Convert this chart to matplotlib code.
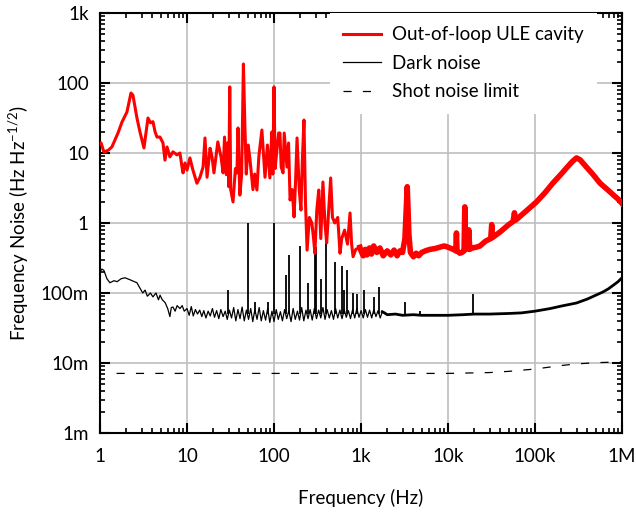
import numpy as np
import matplotlib
matplotlib.use('Agg')
import matplotlib.pyplot as plt
from matplotlib.ticker import FixedLocator, FixedFormatter, LogLocator, NullFormatter

plt.rcParams['font.family'] = ['Lato', 'DejaVu Sans']
plt.rcParams['mathtext.fontset'] = 'custom'
plt.rcParams['mathtext.rm'] = 'Lato'
plt.rcParams['mathtext.it'] = 'Lato:italic'
plt.rcParams['mathtext.bf'] = 'Lato:bold'

# ---------------- data ----------------
ule_f = [1.00, 1.03, 1.11, 1.25, 1.37, 1.61, 1.79, 2.04, 2.27, 2.39, 2.66, 2.88, 3.2, 3.56, 3.8,
         4.06, 4.3, 4.52, 4.89, 5.3, 5.58, 5.89, 6.36, 6.9, 7.67, 8.3, 8.76, 9.0, 9.48, 10,
         10.8, 11.7, 13.0, 14.1, 15.3, 16.1, 17.0, 18.4, 19.4, 20.4, 22.6, 24.6, 26.0, 27.0,
         28.3, 29.5, 30.2, 31.0, 31.8, 33.8, 36, 37.5, 38.6, 40.5, 42.5, 44.5, 46.2, 48, 50.5,
         53, 57.3, 60, 63.6, 67, 72.6, 78.8, 84, 89.6, 94.3, 97, 100, 103, 108, 113, 117, 121,
         127, 131, 141, 147, 153, 162, 170, 177, 184, 195, 204, 212, 221, 230, 240, 255, 272,
         285, 295, 310, 327, 345, 365, 385, 403, 425, 448, 470, 500, 540, 574, 600, 648, 700,
         748, 780, 811, 870, 972,
         1000, 1060, 1120, 1170, 1250, 1320, 1400, 1520, 1650, 1800, 2000, 2200, 2400, 2600,
         2800, 3000, 3200, 3400, 3550, 3700, 4000, 4300, 4600, 5000, 5500, 6200, 7000, 8000,
         9000, 9600, 10500, 11500, 12300, 12500, 12700, 13700, 14500, 15300, 15600, 15900,
         16800, 17300, 17800, 18800, 21000, 23300, 27000, 31000, 31800, 32500, 40000, 50000,
         56000, 58000, 60000, 80000, 104000, 130000, 160000, 200000, 235000, 270000, 300000,
         330000, 390000, 460000, 560000, 680000, 800000, 900000, 1000000]
ule_v = [14, 13.9, 10.3, 11, 12.2, 19.3, 27.7, 38.5, 72, 67, 31.6, 20, 11.8, 31.6, 27,
         28, 20, 16.9, 16.9, 13.9, 7.9, 12.2, 8.8, 10.4, 9.4, 10, 6.3, 5.2, 7.2, 5.7,
         8.5, 5.7, 3.7, 4.5, 6.3, 16.4, 4.5, 11.7, 8.8, 5.2, 14.4, 8.8, 5.2, 16.9,
         4.9, 14, 3.3, 88, 3.0, 2.0, 6, 5.2, 22.8, 2.5, 5, 187, 26, 5, 13,
         8, 3.0, 5, 2.96, 9, 21.3, 4.5, 13, 4.4, 20, 5, 88, 6, 11, 19.3, 19.3, 6.3,
         5.2, 19.3, 6.3, 13.9, 2.13, 3.0, 1.22, 4, 16.4, 3, 1.53, 8, 29.6, 2, 0.41, 1.2, 1.0,
         0.6, 0.37, 1.5, 2.96, 0.6, 3.85, 1, 0.52, 1.5, 4.4, 1.2, 1.0, 1.2, 0.37, 0.6, 0.79, 0.5,
         1.39, 0.5, 0.33, 0.42, 0.45,
         0.40, 0.34, 0.42, 0.35, 0.44, 0.36, 0.47, 0.38, 0.44, 0.34, 0.40, 0.35, 0.41, 0.34,
         0.40, 0.38, 0.6, 3.3, 0.7, 0.38, 0.33, 0.37, 0.34, 0.38, 0.40, 0.42, 0.43, 0.45,
         0.47, 0.46, 0.44, 0.42, 0.40, 0.72, 0.40, 0.37, 0.38, 0.40, 1.7, 0.42,
         0.43, 0.8, 0.42, 0.44, 0.45, 0.47, 0.55, 0.6, 0.95, 0.62, 0.75, 0.95,
         1.05, 1.4, 1.1, 1.5, 2.0, 2.7, 3.7, 5.0, 6.3, 7.6, 8.5,
         8.0, 6.3, 5.0, 3.7, 3.0, 2.5, 2.2, 1.9]

dark_f = [1.0, 1.05, 1.11, 1.2, 1.3, 1.45, 1.57, 1.75, 1.94, 2.2, 2.66, 2.85, 3.1, 3.3, 3.5,
          3.8, 4.06, 4.4, 4.7, 4.9, 5.2, 5.6, 6.0, 6.36, 6.6, 6.9, 7.3, 7.7, 8.3, 8.8, 9.3,
          10, 10.6, 11.2, 11.8, 12.5, 13.2, 14, 14.8, 15.6, 16.5, 17.5, 18.5, 19.6, 20.7, 21.9,
          23.2, 24.5, 26, 27.5, 29, 30.7, 32.5, 34.4, 36.4, 38.5, 40.7, 43, 45.5, 48.2, 51, 54,
          57, 60.3, 63.8, 67.5, 71.4, 75.5, 80, 84.6, 89.5, 94.7, 100, 106, 112, 118.5, 125,
          132.5, 140, 148, 157, 166, 175.5, 186, 196.5, 208, 220, 233, 246, 260, 275, 291, 308,
          326, 345, 365, 386, 408, 432, 457, 483, 511, 540, 572, 605, 640, 677, 716, 757, 801,
          847, 896, 948, 1003, 1061, 1122, 1187, 1255, 1328, 1404, 1485, 1571, 1662, 1758,
          1860, 2000, 2500, 3000, 4000, 5000, 7000, 10000, 15000, 20000, 30000, 50000, 70000,
          100000, 150000, 200000, 300000, 400000, 500000, 600000, 700000, 800000, 900000, 1000000]
dark_v = [0.20, 0.22, 0.21, 0.16, 0.14, 0.15, 0.145, 0.16, 0.165, 0.155, 0.14, 0.12, 0.10, 0.11, 0.09,
          0.10, 0.088, 0.10, 0.08, 0.093, 0.08, 0.073, 0.06, 0.046, 0.062, 0.063, 0.055, 0.066, 0.06, 0.066, 0.055,
          0.060, 0.048, 0.064, 0.047, 0.058, 0.050, 0.057, 0.046, 0.056, 0.044, 0.055, 0.047, 0.060, 0.045, 0.056,
          0.043, 0.058, 0.046, 0.055, 0.042, 0.057, 0.044, 0.062, 0.040, 0.058, 0.043, 0.063, 0.040, 0.057, 0.042, 0.060,
          0.039, 0.058, 0.042, 0.062, 0.040, 0.056, 0.041, 0.060, 0.038, 0.055, 0.039, 0.058, 0.042, 0.054, 0.040,
          0.058, 0.043, 0.056, 0.039, 0.060, 0.042, 0.055, 0.041, 0.062, 0.040, 0.057, 0.043, 0.058, 0.041, 0.060, 0.043,
          0.057, 0.044, 0.062, 0.042, 0.058, 0.044, 0.056, 0.042, 0.060, 0.044, 0.057, 0.043, 0.058, 0.045, 0.056, 0.043,
          0.058, 0.044, 0.060, 0.045, 0.056, 0.044, 0.058, 0.045, 0.057, 0.044, 0.058, 0.046, 0.056, 0.044, 0.054,
          0.052, 0.049, 0.050, 0.048, 0.049, 0.048, 0.048, 0.048, 0.049, 0.050, 0.050, 0.051, 0.052,
          0.055, 0.060, 0.065, 0.072, 0.082, 0.093, 0.103, 0.115, 0.13, 0.145, 0.165]

dark_spike_f = [29.5, 50, 60, 85, 100, 137, 149, 199, 245, 295, 303, 347, 396, 500, 600, 640,
                690, 810, 900, 1080, 1400, 1600, 3200, 4800, 19600]
dark_spike_v = [0.11, 1.0, 0.075, 0.075, 1.0, 0.18, 0.35, 0.47, 0.14, 0.41, 0.45, 0.16, 0.6, 0.28,
                0.24, 0.11, 0.21, 0.10, 0.098, 0.11, 0.088, 0.12, 0.074, 0.056, 0.097]
DARK_FLOOR = 0.05

shot_f = [1.55, 10, 100, 1000, 10000, 30000, 50000, 100000, 200000, 300000, 500000, 1000000]
shot_v = [0.0071, 0.0071, 0.0071, 0.0071, 0.0071, 0.0073, 0.0076, 0.0082, 0.0092, 0.0097, 0.0101, 0.0104]

x_ticks = [1, 10, 100, 1e3, 1e4, 1e5, 1e6]
x_labels = ['1', '10', '100', '1k', '10k', '100k', '1M']
y_ticks = [1e-3, 1e-2, 1e-1, 1, 10, 100, 1e3]
y_labels = ['1m', '10m', '100m', '1', '10', '100', '1k']

# ---------------- figure ----------------
fig = plt.figure(figsize=(6.36, 5.12), dpi=100)
ax = fig.add_axes([100/636, 1-433/512, 522/636, 420/512])
ax.set_xscale('log')
ax.set_yscale('log')
ax.set_xlim(1, 1e6)
ax.set_ylim(1e-3, 1e3)

FS = 13.5
uf = np.array(ule_f); uv = np.array(ule_v)
df = np.array(dark_f); dv = np.array(dark_v)

# dark noise
lo = df <= 1758
ax.plot(df[lo], dv[lo], color='black', lw=0.9, zorder=3, label='Dark noise')
ax.plot(df[df >= 1758], dv[df >= 1758], color='black', lw=2.0, zorder=3)
ax.vlines(dark_spike_f, DARK_FLOOR, dark_spike_v, color='black', lw=1.3, zorder=3)

# shot noise
ax.plot(shot_f, shot_v, color='black', lw=0.9, dashes=(6.5, 9), zorder=3, label='Shot noise limit')

# ULE
ax.plot(uf[uf <= 1000], uv[uf <= 1000], color='#ff0000', lw=2.2, zorder=4,
        label='Out-of-loop ULE cavity')
ax.plot(uf[uf >= 972], uv[uf >= 972], color='#ff0000', lw=4.0, zorder=4)

ax.grid(True, which='major', color='#bfbfbf', lw=1.2, zorder=0)
ax.set_axisbelow(True)

ax.xaxis.set_major_locator(FixedLocator(x_ticks))
ax.xaxis.set_major_formatter(FixedFormatter(x_labels))
ax.yaxis.set_major_locator(FixedLocator(y_ticks))
ax.yaxis.set_major_formatter(FixedFormatter(y_labels))
ax.xaxis.set_minor_locator(LogLocator(base=10, subs=np.arange(2, 10), numticks=20))
ax.yaxis.set_minor_locator(LogLocator(base=10, subs=np.arange(2, 10), numticks=20))
ax.xaxis.set_minor_formatter(NullFormatter())
ax.yaxis.set_minor_formatter(NullFormatter())

ax.tick_params(which='both', direction='in', top=True, right=True, colors='black',
               labelsize=FS)
ax.tick_params(which='major', length=7.5, width=1.5)
ax.tick_params(which='minor', length=3.5, width=1.2)
ax.tick_params(axis='x', which='major', pad=11)
ax.tick_params(axis='y', which='major', pad=8)
for s in ax.spines.values():
    s.set_linewidth(1.5)
    s.set_color('black')

ax.set_xlabel('Frequency (Hz)', fontsize=FS, labelpad=17)
ax.set_ylabel(r'Frequency Noise (Hz Hz$^{-1/2}$)', fontsize=FS, labelpad=7)

h, l = ax.get_legend_handles_labels()
order = [l.index('Out-of-loop ULE cavity'), l.index('Dark noise'), l.index('Shot noise limit')]
leg = ax.legend([h[i] for i in order], [l[i] for i in order], loc='upper left',
                bbox_to_anchor=((330-100)/522, 1.0), frameon=True, fontsize=FS,
                handlelength=2.03, handletextpad=0.59, labelspacing=0.62,
                borderpad=0.7, borderaxespad=0, fancybox=False)
leg.get_frame().set_facecolor('white')
leg.get_frame().set_edgecolor('none')
leg.get_frame().set_alpha(1)
leg.set_zorder(6)

fig.savefig('out.png', dpi=100)
